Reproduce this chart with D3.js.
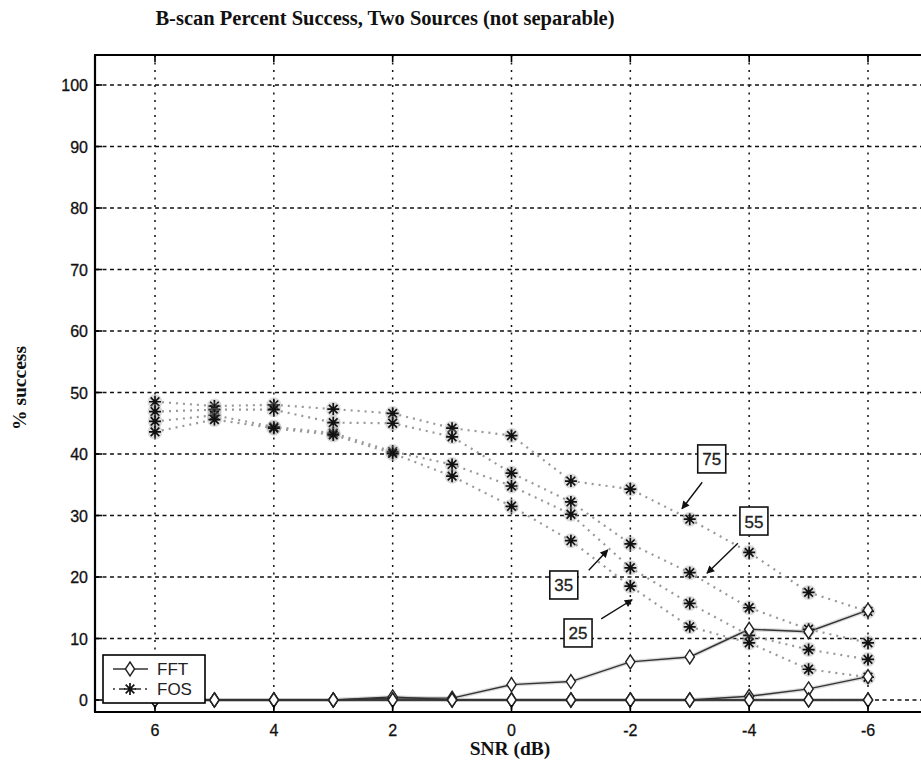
<!DOCTYPE html>
<html><head><meta charset="utf-8">
<script src="https://cdn.jsdelivr.net/npm/d3@7"></script>
<style>html,body{margin:0;padding:0;background:#fff;overflow:hidden}</style>
</head><body>
<svg id="c" width="921" height="768"></svg>
<script>
// ---- data ----
const snr = [6, 5, 4, 3, 2, 1, 0, -1, -2, -3, -4, -5, -6];
const fos75 = [48.5, 47.8, 48.0, 47.3, 46.6, 44.2, 43.0, 35.6, 34.3, 29.4, 24.0, 17.5, 14.4];
const fos55 = [46.9, 47.2, 47.2, 45.1, 45.0, 42.8, 36.9, 32.2, 25.4, 20.7, 15.0, 11.5, 9.3];
const fos35 = [45.3, 46.3, 44.4, 43.4, 40.4, 38.3, 34.8, 30.2, 21.5, 15.7, 10.5, 8.2, 6.6];
const fos25 = [43.6, 45.6, 44.2, 43.1, 40.1, 36.4, 31.5, 25.9, 18.5, 11.9, 9.3, 5.0, 3.7];
const fft75 = [0, 0, 0, 0, 0.3, 0.3, 2.5, 3.0, 6.2, 7.0, 11.5, 11.1, 14.6];
const fft55 = [0, 0, 0, 0, 0.5, 0, 0, 0, 0, 0, 0.6, 1.8, 3.8];
const fft35 = [0, 0, 0, 0, 0, 0, 0, 0, 0, 0, 0, 0, 0];
const fft25 = [0, 0, 0, 0, 0, 0, 0, 0, 0, 0, 0, 0, 0];
const xTicks = [6, 4, 2, 0, -2, -4, -6];
const yTicks = [0, 10, 20, 30, 40, 50, 60, 70, 80, 90, 100];
const legendLabels = ["FFT", "FOS"];
// annotation labels: text, box centre (snr, %), arrow start, arrow end
const annotations = [
  {text: "75", cx: -3.37, cy: 39.2, x1: -3.21, y1: 35.4, x2: -2.87, y2: 31.1},
  {text: "55", cx: -4.08, cy: 29.1, x1: -3.81, y1: 25.5, x2: -3.29, y2: 20.6},
  {text: "35", cx: -0.88, cy: 18.7, x1: -1.30, y1: 21.1, x2: -1.62, y2: 24.4},
  {text: "25", cx: -1.12, cy: 10.9, x1: -1.51, y1: 13.2, x2: -2.03, y2: 16.3}
];
const titleText = "B-scan Percent Success, Two Sources (not separable)";
const xLabel = "SNR (dB)";
const yLabel = "% success";

// ---- layout ----
const svg = d3.select("#c");
const pLeft = 95, pRight = 925, pTop = 55, pBottom = 712;
const x = d3.scaleLinear().domain([6, -6]).range([155, 868]);
const y = d3.scaleLinear().domain([0, 100]).range([700, 85]);

// grid
const g = svg.append("g");
g.selectAll(".hg").data(yTicks).join("line")
  .attr("x1", pLeft).attr("x2", pRight).attr("y1", d => y(d)).attr("y2", d => y(d))
  .attr("stroke", "#111").attr("stroke-width", 1.3).attr("stroke-dasharray", "4,3.5");
g.selectAll(".vg").data(xTicks).join("line")
  .attr("y1", pTop).attr("y2", pBottom).attr("x1", d => x(d)).attr("x2", d => x(d))
  .attr("stroke", "#111").attr("stroke-width", 1.5).attr("stroke-dasharray", "2,5.5");

const line = d3.line().x((d, i) => x(snr[i])).y(d => y(d));
const fosSeries = [fos75, fos55, fos35, fos25];
const fftSeries = [fft75, fft55, fft35, fft25];

// FOS dotted lines
svg.append("g").selectAll("path").data(fosSeries).join("path")
  .attr("d", line).attr("fill", "none").attr("stroke", "#999")
  .attr("stroke-width", 2.2).attr("stroke-dasharray", "2,5");

// FFT lines (with scan halo)
svg.append("g").selectAll("path").data(fftSeries).join("path")
  .attr("d", line).attr("fill", "none").attr("stroke", "#c4c4c4").attr("stroke-width", 4).attr("opacity", 0.6);
svg.append("g").selectAll("path").data(fftSeries).join("path")
  .attr("d", line).attr("fill", "none").attr("stroke", "#333").attr("stroke-width", 1.4);

// markers
const starPath = "M-6,0L6,0M0,-6L0,6M-4.3,-4.3L4.3,4.3M-4.3,4.3L4.3,-4.3";
const diamondPath = "M0,-7L4.6,0L0,7L-4.6,0Z";
fosSeries.forEach(s => {
  const mg = svg.append("g");
  mg.selectAll("circle").data(s).join("circle")
    .attr("cx", (d, i) => x(snr[i])).attr("cy", d => y(d)).attr("r", 7.5)
    .attr("fill", "#9a9a9a").attr("opacity", 0.35);
  mg.selectAll("path").data(s).join("path")
    .attr("transform", (d, i) => `translate(${x(snr[i])},${y(d)})`)
    .attr("d", starPath).attr("stroke", "#111").attr("stroke-width", 1.7).attr("fill", "none");
});
fftSeries.forEach(s => {
  svg.append("g").selectAll("path").data(s).join("path")
    .attr("transform", (d, i) => `translate(${x(snr[i])},${y(d)})`)
    .attr("d", diamondPath).attr("fill", "#fff").attr("stroke", "#222").attr("stroke-width", 1.4);
});

// axes box
const ax = svg.append("g").attr("stroke", "#000").attr("stroke-width", 2.2);
ax.append("line").attr("x1", pLeft).attr("x2", pLeft).attr("y1", pTop).attr("y2", pBottom);
ax.append("line").attr("x1", pLeft - 1).attr("x2", pRight).attr("y1", pBottom).attr("y2", pBottom);
ax.append("line").attr("x1", pLeft - 1).attr("x2", pRight).attr("y1", pTop).attr("y2", pTop);
// ticks
ax.selectAll(".yt").data(yTicks).join("line")
  .attr("x1", pLeft).attr("x2", pLeft + 7).attr("y1", d => y(d)).attr("y2", d => y(d)).attr("stroke-width", 1.6);
ax.selectAll(".xt").data(xTicks).join("line")
  .attr("x1", d => x(d)).attr("x2", d => x(d)).attr("y1", pBottom).attr("y2", pBottom - 7).attr("stroke-width", 1.6);
ax.selectAll(".xt2").data(xTicks).join("line")
  .attr("x1", d => x(d)).attr("x2", d => x(d)).attr("y1", pTop).attr("y2", pTop + 7).attr("stroke-width", 1.6);

// tick labels
const sans = "'Liberation Sans', Arial, Helvetica, sans-serif";
svg.append("g").selectAll("text").data(yTicks).join("text")
  .attr("x", 88).attr("y", d => y(d) + 6).attr("text-anchor", "end")
  .attr("font-family", sans).attr("font-size", 16).attr("fill", "#111")
  .attr("stroke", "#111").attr("stroke-width", 0.3).text(d => d);
svg.append("g").selectAll("text").data(xTicks).join("text")
  .attr("x", d => x(d)).attr("y", 736).attr("text-anchor", "middle")
  .attr("font-family", sans).attr("font-size", 16).attr("fill", "#111")
  .attr("stroke", "#111").attr("stroke-width", 0.3).text(d => d);

// titles
const serif = "'Liberation Serif', 'Times New Roman', Times, serif";
svg.append("text").attr("x", 385).attr("y", 25).attr("text-anchor", "middle")
  .attr("font-family", serif).attr("font-weight", "bold").attr("font-size", 20.5).attr("fill", "#111").text(titleText);
svg.append("text").attr("x", 510).attr("y", 755).attr("text-anchor", "middle")
  .attr("font-family", serif).attr("font-weight", "bold").attr("font-size", 19.5).attr("fill", "#111").text(xLabel);
svg.append("text").attr("transform", "translate(26,388) rotate(-90)").attr("text-anchor", "middle")
  .attr("font-family", serif).attr("font-weight", "bold").attr("font-size", 19.5).attr("fill", "#111").text(yLabel);

// legend
const lg = svg.append("g");
lg.append("rect").attr("x", 103).attr("y", 655).attr("width", 102).attr("height", 48)
  .attr("fill", "#fff").attr("stroke", "#000").attr("stroke-width", 1.6);
lg.append("line").attr("x1", 113).attr("x2", 148).attr("y1", 669).attr("y2", 669).attr("stroke", "#333").attr("stroke-width", 1.4);
lg.append("path").attr("transform", "translate(130,669)").attr("d", diamondPath).attr("fill", "#fff").attr("stroke", "#222").attr("stroke-width", 1.4);
lg.append("line").attr("x1", 113).attr("x2", 148).attr("y1", 689).attr("y2", 689).attr("stroke", "#333").attr("stroke-width", 1.4).attr("stroke-dasharray", "2,4,6,4");
lg.append("path").attr("transform", "translate(130,689)").attr("d", starPath).attr("stroke", "#111").attr("stroke-width", 1.7);
lg.selectAll("text").data(legendLabels).join("text")
  .attr("x", 157).attr("y", (d, i) => 675 + i * 20)
  .attr("font-family", sans).attr("font-size", 17).attr("fill", "#222").text(d => d);

// annotations
svg.append("defs").append("marker").attr("id", "ah").attr("viewBox", "0 0 10 10")
  .attr("refX", 9).attr("refY", 5).attr("markerWidth", 11).attr("markerHeight", 8)
  .attr("markerUnits", "userSpaceOnUse").attr("orient", "auto")
  .append("path").attr("d", "M0,0L10,5L0,10Z").attr("fill", "#111");
const an = svg.append("g");
annotations.forEach(a => {
  an.append("line").attr("x1", x(a.x1)).attr("y1", y(a.y1)).attr("x2", x(a.x2)).attr("y2", y(a.y2))
    .attr("stroke", "#111").attr("stroke-width", 1.4).attr("marker-end", "url(#ah)");
  an.append("rect").attr("x", x(a.cx) - 14).attr("y", y(a.cy) - 14).attr("width", 28).attr("height", 28)
    .attr("fill", "#fff").attr("stroke", "#111").attr("stroke-width", 1.6);
  an.append("text").attr("x", x(a.cx)).attr("y", y(a.cy) + 6.5).attr("text-anchor", "middle")
    .attr("font-family", sans).attr("font-size", 17).attr("fill", "#222")
    .attr("stroke", "#222").attr("stroke-width", 0.3).text(a.text);
});
</script>
</body></html>
